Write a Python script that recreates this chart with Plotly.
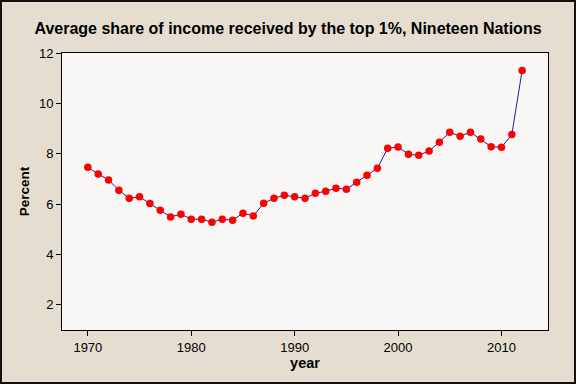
import plotly.graph_objects as go

years = list(range(1970, 2013))
percent = [7.46, 7.19, 6.96, 6.55, 6.23, 6.29, 6.02, 5.76, 5.49, 5.60,
           5.40, 5.40, 5.28, 5.40, 5.36, 5.64, 5.53, 6.03, 6.23, 6.35,
           6.29, 6.23, 6.43, 6.51, 6.63, 6.59, 6.87, 7.15, 7.42, 8.22,
           8.27, 7.98, 7.94, 8.11, 8.46, 8.85, 8.69, 8.85, 8.58, 8.28,
           8.26, 8.76, 11.31]
x_ticks = [1970, 1980, 1990, 2000, 2010]
y_ticks = [2, 4, 6, 8, 10, 12]

FONT = "Liberation Sans"

fig = go.Figure()
fig.add_trace(go.Scatter(
    x=years, y=percent, mode="lines+markers",
    line=dict(color="#1c1ca8", width=1),
    marker=dict(color="#ff0000", size=7.5, line=dict(width=0)),
    showlegend=False,
))

W, H = 576, 384
L, R, T, B = 62, 28, 53, 54
pw, ph = W - L - R, H - T - B

fig.update_layout(
    width=W, height=H,
    margin=dict(l=L, r=R, t=T, b=B),
    paper_bgcolor="#e5ded0",
    plot_bgcolor="#f8f7f6",
    font=dict(family=FONT, color="#000000", size=12),
    title=dict(text="<b>Average share of income received by the top 1%, Nineteen Nations</b>",
               x=0.5, xanchor="center", y=1 - 28 / H, yanchor="middle",
               font=dict(family=FONT, size=16, color="#000000")),
    xaxis=dict(range=[1967.5, 2014.5], tickvals=x_ticks, ticks="outside", ticklen=5,
               tickcolor="#000", showgrid=False, zeroline=False, showline=True,
               linecolor="#000", linewidth=1, mirror=True,
               tickfont=dict(size=13),
               title=dict(text="<b>year</b>", font=dict(size=14.5), standoff=4)),
    yaxis=dict(range=[1, 12], tickvals=y_ticks, ticks="outside", ticklen=5,
               tickcolor="#000", showgrid=False, zeroline=False, showline=True,
               linecolor="#000", linewidth=1, mirror=True,
               tickfont=dict(size=13),
               title=dict(text="<b>Percent</b>", font=dict(size=13.5), standoff=6)),
    shapes=[dict(type="rect", xref="paper", yref="paper",
                 x0=-(L - 1) / pw, x1=(W - L - 1) / pw,
                 y0=-(B - 1) / ph, y1=(H - B - 1) / ph,
                 line=dict(color="#111111", width=2), fillcolor="rgba(0,0,0,0)",
                 layer="above")],
)

fig.write_html("out.html", config={"displayModeBar": False},
               post_script="document.body.style.margin='0';document.body.style.overflow='hidden';")
